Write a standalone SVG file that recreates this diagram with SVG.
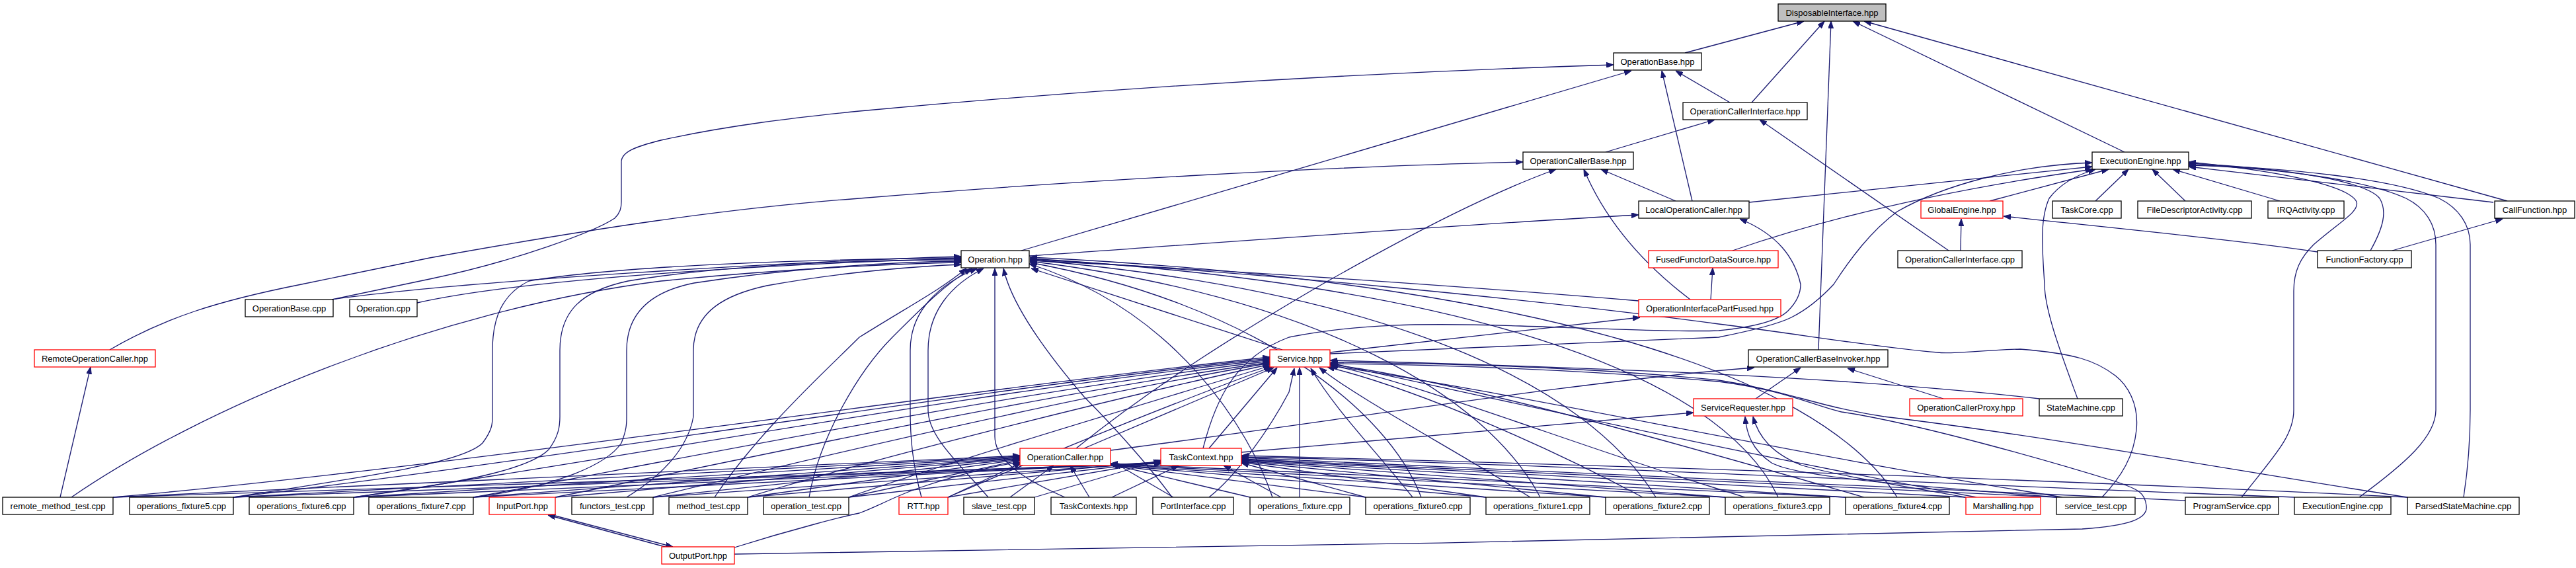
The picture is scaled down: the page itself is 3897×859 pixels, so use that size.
<svg xmlns="http://www.w3.org/2000/svg" width="3897" height="859" viewBox="0 0 3897 859">
<style>
.nd rect{fill:#fff;stroke:#000;stroke-width:1.3}
.nd.red rect{stroke:#ff0000}
.nd.root rect{fill:#bfbfbf}
.nd text{font-family:"Liberation Sans",Arial,sans-serif;font-size:13px;text-anchor:middle;fill:#000}
#edges path{fill:none;stroke:#191970;stroke-width:1.3;marker-end:url(#a)}
</style>
<defs>
<marker id="a" markerWidth="11" markerHeight="8" refX="11" refY="4" orient="auto" markerUnits="userSpaceOnUse"><path d="M0,0 L11,4 L0,8 z" fill="#191970" stroke="#191970" stroke-width="1"/></marker>
</defs>
<rect width="3897" height="859" fill="#fff"/>
<g id="edges">
<path d="M2549,80 L2729,32"/>
<path d="M2650,155 L2760,32"/>
<path d="M2751,529 L2770,32"/>
<path d="M3214,230 L2803,32"/>
<path d="M3793,304 L2820,32"/>
<path d="M502,453 L650,422 C780,395 900,350 930,330 C938,322 940,315 940,305 L940,245 C940,230 960,222 1000,212 C1100,190 1200,178 1300,168 C1600,140 2000,112 2441,98"/>
<path d="M166,529 C250,480 330,455 456,430 L650,390 C900,345 1100,315 1300,300 C1600,275 2000,252 2304,245"/>
<path d="M1545,379 L2468,107"/>
<path d="M2560,304 L2514,107"/>
<path d="M2617,155 L2535,107"/>
<path d="M2429,230 L2594,181"/>
<path d="M2948,379 L2662,181"/>
<path d="M1628,678 C1750,580 1880,500 2000,430 C2150,345 2260,290 2354,256"/>
<path d="M2535,304 L2422,256"/>
<path d="M2557,453 C2520,425 2440,360 2396,256"/>
<path d="M2646,306 L3165,252"/>
<path d="M2621,379 Q2850,300 3166,256"/>
<path d="M3010,304 L3190,256"/>
<path d="M3170,304 L3220,256"/>
<path d="M3306,304 L3256,256"/>
<path d="M3449,304 L3287,256"/>
<path d="M3772,306 L3311,252"/>
<path d="M3586,379 C3605,345 3612,320 3600,300 C3580,275 3470,255 3311,247"/>
<path d="M3391,752 C3440,690 3470,660 3470,620 L3470,440 C3470,410 3480,390 3500,370 C3540,335 3570,320 3565,305 C3555,285 3480,262 3311,245"/>
<path d="M3569,752 C3640,700 3685,660 3685,620 L3685,370 C3685,340 3670,315 3640,300 C3580,272 3450,255 3311,249"/>
<path d="M3727,752 C3735,700 3737,660 3737,620 L3737,370 C3737,340 3720,315 3690,300 C3620,270 3450,252 3311,250"/>
<path d="M3143,603 C3120,540 3093,470 3093,430 C3090,380 3085,333 3100,300 C3115,280 3140,265 3170,256"/>
<path d="M2966,379 L2967,331"/>
<path d="M3506,381 C3400,365 3200,345 3031,327"/>
<path d="M3619,379 L3786,331"/>
<path d="M2012,535 L2600,510 C2650,500 2690,490 2710,480 C2740,465 2760,445 2774,430 C2800,390 2830,350 2870,320 C2940,280 3050,250 3165,246"/>
<path d="M1820,678 C1840,600 1870,540 1950,510 C2050,490 2150,488 2300,493 C2450,498 2550,502 2600,500 C2650,495 2690,485 2705,470 C2720,455 2724,440 2724,430 C2715,390 2690,355 2632,331"/>
<path d="M1557,387 C1800,370 2200,340 2479,325"/>
<path d="M2588,453 L2591,405"/>
<path d="M2012,533 L2481,480"/>
<path d="M2479,455 C2300,440 1900,410 1558,394"/>
<path d="M1940,529 L1560,406"/>
<path d="M91,752 L137,555"/>
<path d="M502,453 C700,425 1200,395 1454,388"/>
<path d="M631,458 C800,420 1200,398 1454,391"/>
<path d="M108,752 C300,620 650,470 1000,425 C1200,405 1380,398 1454,397"/>
<path d="M353,752 C560,720 700,700 730,670 C745,650 745,640 745,630 L745,530 C745,480 760,445 800,425 C950,400 1250,392 1454,390"/>
<path d="M535,752 C700,730 800,710 830,680 C845,660 847,645 847,630 L847,530 C847,470 880,440 950,425 C1100,400 1300,393 1454,393"/>
<path d="M716,752 C850,735 920,700 940,670 C948,650 948,640 948,630 L948,530 C948,470 990,440 1050,428 C1200,405 1350,396 1454,395"/>
<path d="M948,752 C1000,720 1040,680 1049,630 L1049,530 C1049,470 1100,445 1160,432 C1280,410 1400,402 1454,400"/>
<path d="M1081,752 C1150,650 1250,560 1300,510 C1380,460 1420,440 1462,406"/>
<path d="M1224,752 C1240,660 1300,560 1350,510 C1400,460 1430,430 1470,406"/>
<path d="M1394,752 C1380,700 1377,660 1377,620 L1377,530 C1377,470 1420,430 1478,406"/>
<path d="M1495,752 C1450,700 1404,660 1404,620 L1404,530 C1404,470 1440,430 1488,406"/>
<path d="M1611,752 C1560,730 1505,700 1505,660 L1505,406"/>
<path d="M1773,752 C1750,720 1700,660 1640,600 C1580,530 1530,460 1518,406"/>
<path d="M1640,678 L1927,556"/>
<path d="M1829,678 L1932,556"/>
<path d="M1829,752 C1870,720 1920,650 1950,593 L1958,557"/>
<path d="M1680,681 C2000,640 2400,575 2654,556"/>
<path d="M2940,603 L2795,557"/>
<path d="M2656,603 L2724,556"/>
<path d="M1878,684 L2562,624"/>
<path d="M3085,603 C2800,570 2400,555 2012,545"/>
<path d="M1010,828 L829,779"/>
<path d="M836,779 L1018,827"/>
<path d="M1111,828 C1200,800 1280,780 1300,776 C1330,765 1350,752 1390,738 C1450,718 1500,705 1543,699"/>
<path d="M1111,838 C1600,832 2600,815 3150,800 C3220,795 3250,785 3247,765 C3245,745 3235,740 3200,728 C3100,697 2900,640 2786,623 C2740,612 2700,590 2600,577 C2400,560 2200,552 2013,550"/>
<path d="M3180,752 C3210,720 3228,690 3232,650 C3236,610 3218,582 3200,568 C3170,545 3140,535 3056,528 C2990,530 2950,536 2932,533 C2850,527 2720,505 2600,490 C2300,450 1900,412 1558,392"/>
<path d="M3120,752 C2700,685 2300,595 2013,553"/>
<path d="M3642,752 C3400,715 3100,660 2850,630 C2750,615 2700,590 2600,575 C2400,555 2200,550 2013,548"/>
<path d="M2973,752 C2850,730 2760,715 2724,703 C2680,685 2660,660 2652,630"/>
<path d="M3111,752 C2900,735 2720,722 2680,700 C2650,680 2642,655 2640,630"/>
<path d="M171,752 C700,705 1450,590 1921,540"/>
<path d="M171,752 L1543,689"/>
<path d="M171,752 C900,725 1500,712 1757,701"/>
<path d="M353,752 C800,700 1450,592 1921,542"/>
<path d="M353,752 L1543,690"/>
<path d="M353,752 L1757,700"/>
<path d="M535,752 C900,700 1450,595 1921,544"/>
<path d="M535,752 L1543,691"/>
<path d="M535,752 L1757,700"/>
<path d="M716,752 C1000,700 1500,597 1921,546"/>
<path d="M716,752 L1543,692"/>
<path d="M716,752 L1757,699"/>
<path d="M840,752 C1100,700 1550,600 1921,548"/>
<path d="M840,752 L1543,693"/>
<path d="M988,752 C1200,700 1600,605 1921,549"/>
<path d="M988,752 L1543,694"/>
<path d="M988,752 L1757,699"/>
<path d="M1131,752 C1300,700 1650,610 1921,551"/>
<path d="M1131,752 L1543,695"/>
<path d="M1131,752 L1757,698"/>
<path d="M1284,752 C1400,710 1700,620 1922,553"/>
<path d="M1284,752 L1543,696"/>
<path d="M1284,752 L1757,698"/>
<path d="M1434,752 C1600,680 1800,600 1924,555"/>
<path d="M1434,752 L1545,700"/>
<path d="M1434,752 L1757,697"/>
<path d="M1528,752 L1594,704"/>
<path d="M1565,752 L1756,696"/>
<path d="M1648,752 L1619,704"/>
<path d="M1682,752 L1783,704"/>
<path d="M1775,752 L1686,700"/>
<path d="M1891,752 L1680,702"/>
<path d="M1938,752 L1851,704"/>
<path d="M1966,752 L1966,556"/>
<path d="M1925,752 C1890,650 1780,470 1557,399"/>
<path d="M2137,752 C2080,680 2020,620 1983,557"/>
<path d="M2150,752 C2100,620 1900,460 1558,397"/>
<path d="M2066,752 L1680,703"/>
<path d="M2066,752 L1878,700"/>
<path d="M2315,752 C2200,680 2050,600 1996,556"/>
<path d="M2330,752 C2250,600 2000,450 1558,395"/>
<path d="M2248,752 L1680,703"/>
<path d="M2248,752 L1878,699"/>
<path d="M2485,752 C2350,680 2150,590 2008,555"/>
<path d="M2505,752 C2400,580 2100,440 1558,393"/>
<path d="M2429,752 L1680,703"/>
<path d="M2429,752 L1878,698"/>
<path d="M2640,752 C2400,680 2150,580 2012,552"/>
<path d="M2690,752 C2600,560 2200,430 1558,391"/>
<path d="M2610,752 L1878,697"/>
<path d="M2610,752 L1680,702"/>
<path d="M2820,752 C2500,660 2200,575 2012,551"/>
<path d="M2870,752 C2750,560 2300,425 1558,389"/>
<path d="M2792,752 L1878,696"/>
<path d="M2792,752 L1680,701"/>
<path d="M2974,752 L1878,695"/>
<path d="M2990,752 C2600,680 2250,600 2012,549"/>
<path d="M3111,752 L1878,694"/>
<path d="M3306,757 L1878,692"/>
<path d="M3471,752 C3000,735 2300,700 1878,691"/>
<path d="M3642,752 C3000,720 2300,700 1878,689"/>
</g>
<g id="n0" class="nd root"><rect x="2690" y="6" width="163" height="26"/><text x="2771.5" y="23.5">DisposableInterface.hpp</text></g>
<g id="n1" class="nd"><rect x="2441" y="80" width="133" height="26"/><text x="2507.5" y="97.5">OperationBase.hpp</text></g>
<g id="n2" class="nd"><rect x="2546" y="155" width="188" height="26"/><text x="2640" y="172.5">OperationCallerInterface.hpp</text></g>
<g id="n3" class="nd"><rect x="2304" y="230" width="167" height="26"/><text x="2387.5" y="247.5">OperationCallerBase.hpp</text></g>
<g id="n4" class="nd"><rect x="3165" y="230" width="146" height="26"/><text x="3238" y="247.5">ExecutionEngine.hpp</text></g>
<g id="n5" class="nd"><rect x="2479" y="304" width="167" height="26"/><text x="2562.5" y="321.5">LocalOperationCaller.hpp</text></g>
<g id="n6" class="nd red"><rect x="2906" y="304" width="124" height="26"/><text x="2968" y="321.5">GlobalEngine.hpp</text></g>
<g id="n7" class="nd"><rect x="3105" y="304" width="104" height="26"/><text x="3157" y="321.5">TaskCore.cpp</text></g>
<g id="n8" class="nd"><rect x="3234" y="304" width="172" height="26"/><text x="3320" y="321.5">FileDescriptorActivity.cpp</text></g>
<g id="n9" class="nd"><rect x="3431" y="304" width="115" height="26"/><text x="3488.5" y="321.5">IRQActivity.cpp</text></g>
<g id="n10" class="nd"><rect x="3774" y="304" width="121" height="26"/><text x="3834.5" y="321.5">CallFunction.hpp</text></g>
<g id="n11" class="nd"><rect x="1454" y="379" width="103" height="26"/><text x="1505.5" y="396.5">Operation.hpp</text></g>
<g id="n12" class="nd red"><rect x="2494" y="379" width="196" height="26"/><text x="2592" y="396.5">FusedFunctorDataSource.hpp</text></g>
<g id="n13" class="nd"><rect x="2871" y="379" width="188" height="26"/><text x="2965" y="396.5">OperationCallerInterface.cpp</text></g>
<g id="n14" class="nd"><rect x="3506" y="379" width="142" height="26"/><text x="3577" y="396.5">FunctionFactory.cpp</text></g>
<g id="n15" class="nd"><rect x="371" y="453" width="133" height="26"/><text x="437.5" y="470.5">OperationBase.cpp</text></g>
<g id="n16" class="nd"><rect x="529" y="453" width="102" height="26"/><text x="580" y="470.5">Operation.cpp</text></g>
<g id="n17" class="nd red"><rect x="2479" y="453" width="215" height="26"/><text x="2586.5" y="470.5">OperationInterfacePartFused.hpp</text></g>
<g id="n18" class="nd red"><rect x="52" y="529" width="183" height="26"/><text x="143.5" y="546.5">RemoteOperationCaller.hpp</text></g>
<g id="n19" class="nd red"><rect x="1921" y="529" width="91" height="26"/><text x="1966.5" y="546.5">Service.hpp</text></g>
<g id="n20" class="nd"><rect x="2645" y="529" width="211" height="26"/><text x="2750.5" y="546.5">OperationCallerBaseInvoker.hpp</text></g>
<g id="n21" class="nd red"><rect x="2562" y="603" width="150" height="26"/><text x="2637" y="620.5">ServiceRequester.hpp</text></g>
<g id="n22" class="nd red"><rect x="2889" y="603" width="171" height="26"/><text x="2974.5" y="620.5">OperationCallerProxy.hpp</text></g>
<g id="n23" class="nd"><rect x="3085" y="603" width="126" height="26"/><text x="3148" y="620.5">StateMachine.cpp</text></g>
<g id="n24" class="nd red"><rect x="1543" y="678" width="137" height="26"/><text x="1611.5" y="695.5">OperationCaller.hpp</text></g>
<g id="n25" class="nd red"><rect x="1756" y="678" width="122" height="26"/><text x="1817" y="695.5">TaskContext.hpp</text></g>
<g id="n26" class="nd"><rect x="4" y="752" width="167" height="26"/><text x="87.5" y="769.5">remote_method_test.cpp</text></g>
<g id="n27" class="nd"><rect x="196" y="752" width="157" height="26"/><text x="274.5" y="769.5">operations_fixture5.cpp</text></g>
<g id="n28" class="nd"><rect x="377" y="752" width="158" height="26"/><text x="456" y="769.5">operations_fixture6.cpp</text></g>
<g id="n29" class="nd"><rect x="558" y="752" width="158" height="26"/><text x="637" y="769.5">operations_fixture7.cpp</text></g>
<g id="n30" class="nd red"><rect x="740" y="752" width="100" height="26"/><text x="790" y="769.5">InputPort.hpp</text></g>
<g id="n31" class="nd"><rect x="865" y="752" width="123" height="26"/><text x="926.5" y="769.5">functors_test.cpp</text></g>
<g id="n32" class="nd"><rect x="1012" y="752" width="119" height="26"/><text x="1071.5" y="769.5">method_test.cpp</text></g>
<g id="n33" class="nd"><rect x="1155" y="752" width="129" height="26"/><text x="1219.5" y="769.5">operation_test.cpp</text></g>
<g id="n34" class="nd red"><rect x="1360" y="752" width="74" height="26"/><text x="1397" y="769.5">RTT.hpp</text></g>
<g id="n35" class="nd"><rect x="1458" y="752" width="107" height="26"/><text x="1511.5" y="769.5">slave_test.cpp</text></g>
<g id="n36" class="nd"><rect x="1590" y="752" width="129" height="26"/><text x="1654.5" y="769.5">TaskContexts.hpp</text></g>
<g id="n37" class="nd"><rect x="1744" y="752" width="122" height="26"/><text x="1805" y="769.5">PortInterface.cpp</text></g>
<g id="n38" class="nd"><rect x="1891" y="752" width="151" height="26"/><text x="1966.5" y="769.5">operations_fixture.cpp</text></g>
<g id="n39" class="nd"><rect x="2066" y="752" width="158" height="26"/><text x="2145" y="769.5">operations_fixture0.cpp</text></g>
<g id="n40" class="nd"><rect x="2248" y="752" width="157" height="26"/><text x="2326.5" y="769.5">operations_fixture1.cpp</text></g>
<g id="n41" class="nd"><rect x="2429" y="752" width="157" height="26"/><text x="2507.5" y="769.5">operations_fixture2.cpp</text></g>
<g id="n42" class="nd"><rect x="2610" y="752" width="158" height="26"/><text x="2689" y="769.5">operations_fixture3.cpp</text></g>
<g id="n43" class="nd"><rect x="2792" y="752" width="157" height="26"/><text x="2870.5" y="769.5">operations_fixture4.cpp</text></g>
<g id="n44" class="nd red"><rect x="2974" y="752" width="113" height="26"/><text x="3030.5" y="769.5">Marshalling.hpp</text></g>
<g id="n45" class="nd"><rect x="3111" y="752" width="119" height="26"/><text x="3170.5" y="769.5">service_test.cpp</text></g>
<g id="n46" class="nd"><rect x="3306" y="752" width="141" height="26"/><text x="3376.5" y="769.5">ProgramService.cpp</text></g>
<g id="n47" class="nd"><rect x="3471" y="752" width="146" height="26"/><text x="3544" y="769.5">ExecutionEngine.cpp</text></g>
<g id="n48" class="nd"><rect x="3642" y="752" width="169" height="26"/><text x="3726.5" y="769.5">ParsedStateMachine.cpp</text></g>
<g id="n49" class="nd red"><rect x="1001" y="827" width="110" height="26"/><text x="1056" y="844.5">OutputPort.hpp</text></g>
</svg>
